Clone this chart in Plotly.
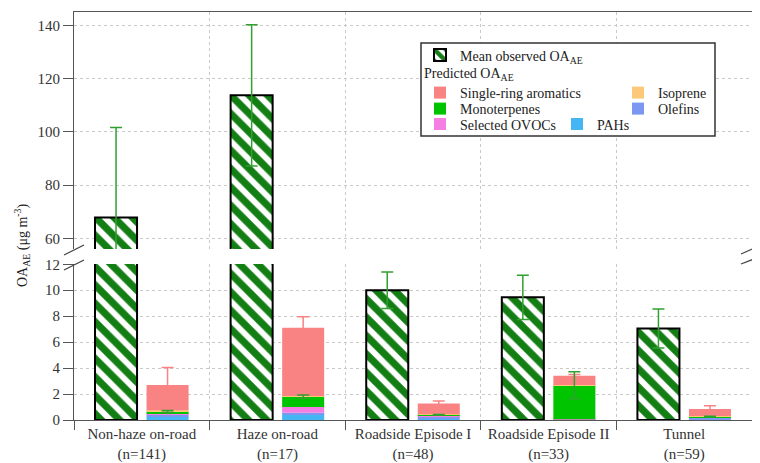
import numpy as np
import plotly.graph_objects as go

# ---------------- data ----------------
categories = ["Non-haze on-road", "Haze on-road", "Roadside Episode I",
              "Roadside Episode II", "Tunnel"]
n_samples = [141, 17, 48, 33, 59]

obs_mean = [67.8, 113.7, 10.0, 9.45, 7.05]
obs_err = [33.8, 26.5, 1.4, 1.7, 1.5]

pahs = [0.25, 0.45, 0.05, 0.02, 0.05]
olefins = [0.15, 0.10, 0.25, 0.03, 0.15]
ovocs = [0.10, 0.45, 0.05, 0.01, 0.02]
monoterpenes = [0.15, 0.80, 0.05, 2.62, 0.05]
isoprene = [0.10, 0.05, 0.05, 0.02, 0.03]
aromatics = [1.95, 5.25, 0.83, 0.70, 0.55]

aromatics_err = [1.35, 0.85, 0.18, 0.10, 0.25]
monoterpenes_err = [0.08, 0.12, 0.02, 1.03, 0.02]

# ---------------- styling ----------------
FONT = "Liberation Serif, Times New Roman, serif"
OBS_GREEN = "#137e13"
ERR_GREEN = "#31a031"
colors = {
    "PAHs": "#45b6f3",
    "Olefins": "#7b97f2",
    "Selected OVOCs": "#f57ee2",
    "Monoterpenes": "#00c400",
    "Isoprene": "#fcc97a",
    "Single-ring aromatics": "#f98383",
}
stack = [("PAHs", pahs, "legend4", 2),
         ("Olefins", olefins, "legend3", 2),
         ("Selected OVOCs", ovocs, "legend4", 1),
         ("Monoterpenes", monoterpenes, "legend3", 1),
         ("Isoprene", isoprene, "legend2", 2),
         ("Single-ring aromatics", aromatics, "legend2", 1)]

idx = np.arange(len(categories))
OFF, BW = 0.19, 0.31
x_obs = idx - OFF
x_pred = idx + OFF

# page geometry: the page body has an 8px margin, so the figure is shifted
PAGE_OFF = 8
W, H = 760 - PAGE_OFF, 463 - PAGE_OFF
PL, PR, PT, PB = 74, 752, 12, 420          # plot area in page pixels
L, T = PL - PAGE_OFF, PT - PAGE_OFF
R = W - (PR - PAGE_OFF)
B = H - (PB - PAGE_OFF)
PW, PH = PR - PL, PB - PT


def px(xp):
    return (xp - PL) / PW


def py(yp):
    return (PB - yp) / PH


fig = go.Figure()

for xa, ya, show in (("x", "y", True), ("x2", "y2", False)):
    fig.add_trace(go.Bar(
        x=x_obs, y=obs_mean, width=BW, xaxis=xa, yaxis=ya,
        name="Mean observed OA<sub>AE</sub>", legend="legend",
        showlegend=show, legendgroup="obs", opacity=1,
        marker=dict(color="white", opacity=1, line=dict(color="black", width=2),
                    pattern=dict(shape="\\", fgcolor=OBS_GREEN, bgcolor="white",
                                 fgopacity=1, size=13, solidity=0.55)),
        hoverinfo="skip"))
    base = np.zeros(len(categories))
    for name, vals, lg, rank in stack:
        vals = np.array(vals)
        fig.add_trace(go.Bar(
            x=x_pred, y=vals, base=base.copy(), width=BW, xaxis=xa, yaxis=ya,
            name=name, legend=lg, legendrank=rank, showlegend=show, opacity=1,
            legendgroup=name, marker=dict(color=colors[name], line=dict(width=0)),
            hoverinfo="skip"))
        base = base + vals

    mono_top = np.array(pahs) + np.array(olefins) + np.array(ovocs) + np.array(monoterpenes)
    total = base
    fig.add_trace(go.Scatter(
        x=x_pred, y=total, mode="markers", xaxis=xa, yaxis=ya, showlegend=False,
        marker=dict(size=1, opacity=0), hoverinfo="skip",
        error_y=dict(type="data", array=aromatics_err, color=colors["Single-ring aromatics"],
                     thickness=1.5, width=6)))
    fig.add_trace(go.Scatter(
        x=x_pred, y=mono_top, mode="markers", xaxis=xa, yaxis=ya, showlegend=False,
        marker=dict(size=1, opacity=0), hoverinfo="skip",
        error_y=dict(type="data", array=monoterpenes_err, color=ERR_GREEN,
                     thickness=1.5, width=6)))
    fig.add_trace(go.Scatter(
        x=x_obs, y=obs_mean, mode="markers", xaxis=xa, yaxis=ya, showlegend=False,
        marker=dict(size=1, opacity=0), hoverinfo="skip",
        error_y=dict(type="data", array=obs_err, color=ERR_GREEN,
                     thickness=1.5, width=6)))

ticktext = [f"{c}<br>(n={n})" for c, n in zip(categories, n_samples)]
GRID = "#c9c9c9"
AX = "#555555"
ytickfont = dict(family=FONT, size=15, color="#333333")
xtickfont = dict(family=FONT, size=15, color="#333333")
LEGFONT = dict(family=FONT, size=14, color="#222222")

minor_grid = dict(tick0=-0.5, dtick=1, showgrid=True, griddash="dot",
                  gridcolor=GRID, gridwidth=1)

fig.update_layout(
    width=W, height=H,
    margin=dict(l=L, r=R, t=T, b=B, autoexpand=False),
    paper_bgcolor="white", plot_bgcolor="white",
    barmode="overlay",
    font=dict(family=FONT, size=14, color="#222222"),
    xaxis=dict(domain=[0, 1], anchor="y", range=[-0.5, 4.5], automargin=False,
               tickmode="array", tickvals=idx, ticktext=ticktext, ticks="",
               tickangle=0, tickfont=xtickfont, ticklabelstandoff=0,
               showgrid=False, zeroline=False,
               showline=True, linecolor=AX, linewidth=1.2,
               minor=dict(**minor_grid, ticks="outside", ticklen=9, tickcolor=AX)),
    yaxis=dict(domain=[0, py(264)], range=[0, 12.02], tick0=0, dtick=2, automargin=False,
               ticks="outside", ticklen=10, tickcolor=AX, tickfont=ytickfont,
               showgrid=True, griddash="dot", gridcolor=GRID, zeroline=False,
               showline=True, linecolor=AX, linewidth=1.2),
    xaxis2=dict(domain=[0, 1], anchor="y2", matches="x", side="top", automargin=False,
                showticklabels=False, ticks="", showgrid=False, zeroline=False,
                showline=True, linecolor=AX, linewidth=1.2,
                minor=dict(**minor_grid, ticks="")),
    yaxis2=dict(domain=[py(249), 1], range=[56, 145], tick0=0, dtick=20, automargin=False,
                ticks="outside", ticklen=10, tickcolor=AX, tickfont=ytickfont,
                showgrid=True, griddash="dot", gridcolor=GRID, zeroline=False,
                showline=True, linecolor=AX, linewidth=1.2),
    legend=dict(x=px(420), y=py(55.5), xanchor="left", yanchor="middle",
                bgcolor="rgba(0,0,0,0)", font=LEGFONT),
    legend2=dict(x=px(420), y=py(93), xanchor="left", yanchor="middle",
                 orientation="h", entrywidth=153, bgcolor="rgba(0,0,0,0)", font=LEGFONT),
    legend3=dict(x=px(420), y=py(109), xanchor="left", yanchor="middle",
                 orientation="h", entrywidth=153, bgcolor="rgba(0,0,0,0)", font=LEGFONT),
    legend4=dict(x=px(420), y=py(124.5), xanchor="left", yanchor="middle",
                 orientation="h", entrywidth=92, bgcolor="rgba(0,0,0,0)", font=LEGFONT),
)

shapes = [
    dict(type="rect", xref="paper", yref="paper", x0=px(421), x1=px(715),
         y0=py(136), y1=py(43), line=dict(color="#333333", width=1.5),
         fillcolor="white", layer="above"),
]
# axis break marks
for (xa0, ya0, xa1, ya1) in [(64, 255, 84, 245), (64, 270, 84, 260),
                             (741, 254, 759, 246), (741, 264, 759, 257)]:
    shapes.append(dict(type="line", xref="paper", yref="paper",
                       x0=px(xa0), y0=py(ya0), x1=px(xa1), y1=py(ya1),
                       line=dict(color="#444444", width=1.3)))
fig.update_layout(shapes=shapes)

fig.add_annotation(xref="paper", yref="paper", x=px(422), y=py(74),
                   xanchor="left", yanchor="middle", showarrow=False,
                   text="Predicted OA<sub>AE</sub>", font=LEGFONT)
fig.add_annotation(xref="paper", yref="paper", x=px(22), y=py(245),
                   xanchor="center", yanchor="middle", showarrow=False, textangle=-90,
                   text="OA<sub>AE</sub> (μg m<sup>-3</sup>)",
                   font=dict(family=FONT, size=14, color="#222222"))

fig.write_html("out.html")
